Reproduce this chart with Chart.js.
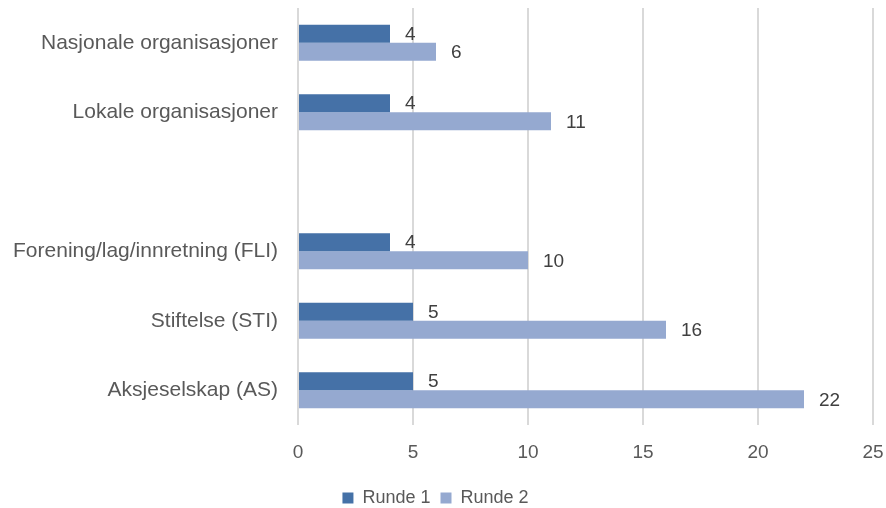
<!DOCTYPE html>
<html lang="no">
<head>
    <meta charset="UTF-8">
    <title>Runde 1 og Runde 2</title>
    <script src="https://cdn.jsdelivr.net/npm/chart.js"></script>
    <style>
        body {
            margin: 0;
            background: #fff;
        }
        canvas {
            display: block;
        }
    </style>
</head>
<body>
    <canvas id="chartCanvas" width="886" height="508"></canvas>
    <script>
        // data lest av bildet
        const categories = ['Nasjonale organisasjoner', 'Lokale organisasjoner', '', 'Forening/lag/innretning (FLI)', 'Stiftelse (STI)', 'Aksjeselskap (AS)'];
        const runde1 = [4, 4, null, 4, 5, 5];
        const runde2 = [6, 11, null, 10, 16, 22];
        const xTicks = [0, 5, 10, 15, 20, 25];

        const fontFamily = "'Liberation Sans', Arial, sans-serif";

        // verdier til hoyre for stolpene
        const valueLabels = {
            id: 'valueLabels',
            afterDatasetsDraw(chart) {
                const ctx = chart.ctx;
                ctx.save();
                ctx.font = '19px ' + fontFamily;
                ctx.fillStyle = '#404040';
                ctx.textAlign = 'left';
                ctx.textBaseline = 'middle';
                chart.data.datasets.forEach((ds, i) => {
                    chart.getDatasetMeta(i).data.forEach((bar, j) => {
                        if (ds.data[j] == null) return;
                        ctx.fillText(ds.data[j], bar.x + 15, bar.y + 1);
                    });
                });
                ctx.restore();
            }
        };

        // flytt legenden litt ned og mot venstre
        const legendNudge = {
            id: 'legendNudge',
            afterLayout(chart) {
                const lg = chart.legend;
                lg.top += 9;
                lg.bottom += 9;
                lg.right -= 2;
            }
        };

        const ctx = document.getElementById('chartCanvas').getContext('2d');
        new Chart(ctx, {
            type: 'bar',
            data: {
                labels: categories,
                datasets: [
                    {
                        label: 'Runde 1',
                        data: runde1,
                        backgroundColor: '#4571a7'
                    },
                    {
                        label: 'Runde 2',
                        data: runde2,
                        backgroundColor: '#95a9d0'
                    }
                ]
            },
            options: {
                indexAxis: 'y',
                responsive: false,
                animation: false,
                devicePixelRatio: 1,
                layout: {
                    padding: { left: 0, right: 13, top: 8, bottom: 0 }
                },
                datasets: {
                    bar: {
                        barPercentage: 1,
                        categoryPercentage: 0.52
                    }
                },
                scales: {
                    x: {
                        min: 0,
                        max: 25,
                        afterBuildTicks: (scale) => {
                            scale.ticks = xTicks.map(v => ({ value: v }));
                        },
                        afterFit: (scale) => {
                            scale.height = 45;
                            scale.paddingLeft = 0;
                            scale.paddingRight = 0;
                        },
                        grid: {
                            color: '#d9d9d9',
                            lineWidth: 2,
                            drawTicks: false
                        },
                        border: { display: false },
                        ticks: {
                            padding: 16,
                            color: '#595959',
                            font: { family: fontFamily, size: 19 }
                        }
                    },
                    y: {
                        afterFit: (scale) => {
                            scale.width = 298;
                            scale.paddingTop = 0;
                            scale.paddingBottom = 0;
                        },
                        grid: { display: false },
                        border: { display: false },
                        ticks: {
                            padding: 12,
                            color: '#595959',
                            font: { family: fontFamily, size: 21 }
                        }
                    }
                },
                plugins: {
                    legend: {
                        position: 'bottom',
                        labels: {
                            boxWidth: 11,
                            boxHeight: 11,
                            padding: 10,
                            color: '#595959',
                            font: { family: fontFamily, size: 18 }
                        }
                    },
                    tooltip: { enabled: false }
                }
            },
            plugins: [valueLabels, legendNudge]
        });
    </script>
</body>
</html>
